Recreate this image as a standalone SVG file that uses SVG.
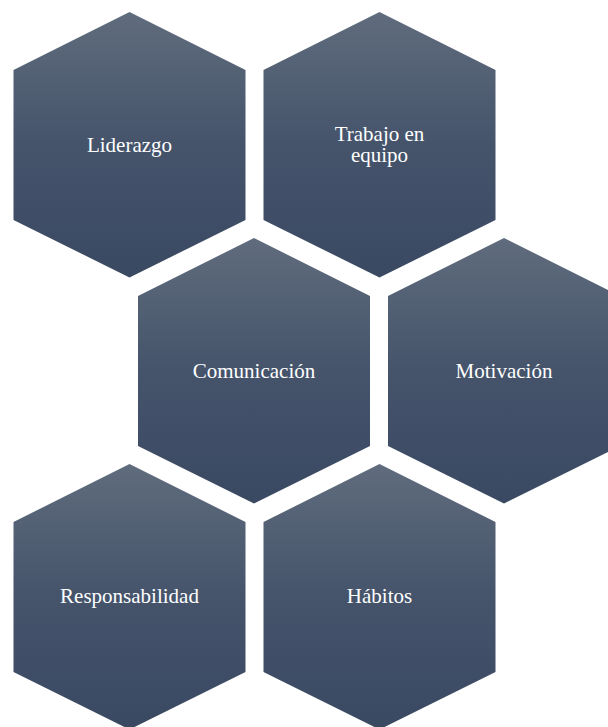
<svg xmlns="http://www.w3.org/2000/svg" xmlns:xlink="http://www.w3.org/1999/xlink" width="608" height="727" viewBox="0 0 608 727">
  <style>
    .hex { fill: url(#g); }
    .lbl { font-family: "Liberation Serif", "Times New Roman", serif; font-size: 21px; fill: #ffffff; text-anchor: middle; }
  </style>
  <defs>
    <linearGradient id="g" x1="0" y1="0" x2="0" y2="1">
      <stop offset="0" stop-color="#606c7d"/>
      <stop offset="0.5" stop-color="#45546b"/>
      <stop offset="1" stop-color="#3a4962"/>
    </linearGradient>
    <polygon id="hx" points="0,0 116,58 116,208 0,265.5 -116,208 -116,58"/>
  </defs>
  <rect width="608" height="727" fill="#ffffff"/>
  <g id="connectors"/>
  <g id="n1">
    <use xlink:href="#hx" class="hex" x="129.5" y="12"/>
    <text class="lbl" x="129.5" y="152">Liderazgo</text>
  </g>
  <g id="n2">
    <use xlink:href="#hx" class="hex" x="379.5" y="12"/>
    <text class="lbl" x="379.5" y="140.5">Trabajo en</text>
    <text class="lbl" x="379.5" y="162">equipo</text>
  </g>
  <g id="n3">
    <use xlink:href="#hx" class="hex" x="254" y="238"/>
    <text class="lbl" x="254" y="378">Comunicación</text>
  </g>
  <g id="n4">
    <use xlink:href="#hx" class="hex" x="504" y="238"/>
    <text class="lbl" x="504" y="378">Motivación</text>
  </g>
  <g id="n5">
    <use xlink:href="#hx" class="hex" x="129.5" y="464"/>
    <text class="lbl" x="129.5" y="603">Responsabilidad</text>
  </g>
  <g id="n6">
    <use xlink:href="#hx" class="hex" x="379.5" y="464"/>
    <text class="lbl" x="379.5" y="603">Hábitos</text>
  </g>
</svg>
